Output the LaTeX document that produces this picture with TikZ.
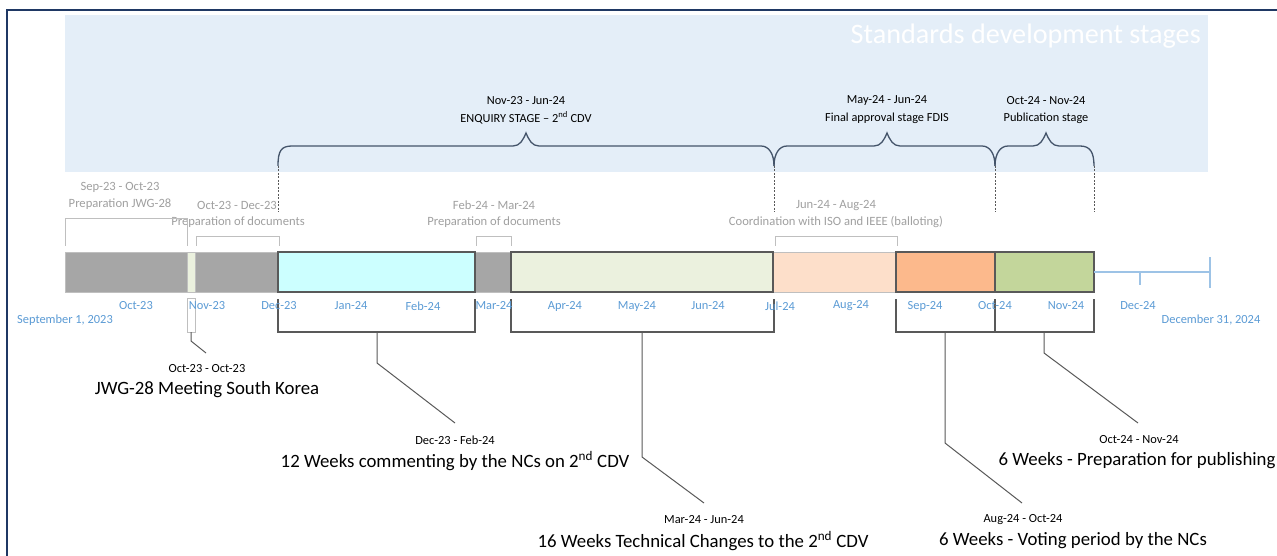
\documentclass[tikz,border=0pt]{standalone}
\usepackage{fontspec}
\setmainfont{Carlito}
\definecolor{frameblue}{HTML}{1F3864}
\definecolor{regionblue}{HTML}{E4EEF8}
\definecolor{segGray}{HTML}{A6A6A6}
\definecolor{segCyan}{HTML}{CCFFFF}
\definecolor{segOlive}{HTML}{EBF1DE}
\definecolor{segPeach}{HTML}{FDDFCA}
\definecolor{segOrange}{HTML}{FCB98C}
\definecolor{segGreen}{HTML}{C3D69B}
\definecolor{monthBlue}{HTML}{5B9BD5}
\definecolor{axisBlue}{HTML}{9DC3E6}
\definecolor{labelGray}{HTML}{A0A0A0}
\definecolor{braceCol}{HTML}{44546A}
\definecolor{darkEdge}{HTML}{595959}
\definecolor{lightEdge}{HTML}{BFBFBF}
\begin{document}
\begin{tikzpicture}[x=1pt,y=-1pt,
  month/.style={text=monthBlue,font=\fontsize{12.4}{14}\selectfont,inner sep=0pt,anchor=center},
  graylbl/.style={text=labelGray,font=\fontsize{12.6}{14}\selectfont,inner sep=0pt,anchor=center},
  stagelbl/.style={text=black,font=\fontsize{12.3}{14}\selectfont,inner sep=0pt,anchor=center},
  datelbl/.style={text=black,font=\fontsize{12.4}{14}\selectfont,inner sep=0pt,anchor=center},
  biglbl/.style={text=black,font=\fontsize{18.8}{21}\selectfont,inner sep=0pt,anchor=center},
  stagebrace/.style={draw=braceCol,line width=1.3pt},
  grayframe/.style={draw=lightEdge,line width=1pt},
  lowbracket/.style={draw=darkEdge,line width=1.3pt},
  leader/.style={draw=darkEdge,line width=1pt},
  guide/.style={draw=darkEdge,line width=0.9pt,dash pattern=on 2pt off 1.5pt},
  segdark/.style={draw=darkEdge,line width=1.2pt},
]
\useasboundingbox (0,0) rectangle (1277,556);
\fill[white] (0,0) rectangle (1277,556);
% frame
\draw[frameblue,line width=1.6pt] (7,560) -- (7,10) -- (1280,10);
% region
\fill[regionblue] (65,15) rectangle (1208,172);
\node[text=white,font=\fontsize{28.2}{31}\selectfont,anchor=east,inner sep=0pt] (title) at (1201,36) {Standards development stages};

% stage labels
\node[stagelbl] (enqA) at (526,101) {Nov-23 - Jun-24};
\node[stagelbl] (enqB) at (526,118) {ENQUIRY STAGE – 2\textsuperscript{nd} CDV};
\node[stagelbl] (fdisA) at (887,101) {May-24 - Jun-24};
\node[stagelbl] (fdisB) at (887,118) {Final approval stage FDIS};
\node[stagelbl] (pubA) at (1046,101) {Oct-24 - Nov-24};
\node[stagelbl] (pubB) at (1046,118) {Publication stage};

% braces
\draw[stagebrace] (278,166) .. controls (278,151) and (281,146) .. (292,146)
  -- (513,146) .. controls (520,146) and (523,140) .. (526,133)
  .. controls (529,140) and (532,146) .. (539,146)
  -- (761,146) .. controls (769,146) and (774,154) .. (774,166);
\draw[stagebrace] (774,166) .. controls (774,154) and (779,146) .. (787,146)
  -- (874,146) .. controls (881,146) and (884,140) .. (887,133)
  .. controls (890,140) and (893,146) .. (900,146)
  -- (982,146) .. controls (990,146) and (995,154) .. (995,166);
\draw[stagebrace] (995,166) .. controls (995,154) and (1000,146) .. (1008,146)
  -- (1033,146) .. controls (1040,146) and (1043,140) .. (1046,133)
  .. controls (1049,140) and (1052,146) .. (1059,146)
  -- (1080,146) .. controls (1090,146) and (1094,152) .. (1094,166);

% dashed guides
\foreach \gx in {278,774,995,1094} {\draw[guide] (\gx,166) -- (\gx,212);}

% gray labels above bar
\node[graylbl] (prepJA) at (120,187) {Sep-23 - Oct-23};
\node[graylbl] (prepJB) at (120,204) {Preparation JWG-28};
\node[graylbl] (prepDA) at (237,205) {Oct-23 - Dec-23};
\node[graylbl] (prepDB) at (238,222) {Preparation of documents};
\node[graylbl] (prepEA) at (494,205) {Feb-24 - Mar-24};
\node[graylbl] (prepEB) at (494,222) {Preparation of documents};
\node[graylbl] (coordA) at (836,205) {Jun-24 - Aug-24};
\node[graylbl] (coordB) at (836,222) {Coordination with ISO and IEEE (balloting)};

\draw[grayframe] (65,246) -- (65,219) -- (187,219) -- (187,246);
\draw[grayframe] (196,246) -- (196,237) -- (279,237) -- (279,246);
\draw[grayframe] (476,246) -- (476,237) -- (511,237) -- (511,246);
\draw[grayframe] (775,246) -- (775,237) -- (897,237) -- (897,246);

% bar segments
\filldraw[fill=segGray,draw=lightEdge,line width=0.8pt] (65,252) rectangle (187,292);
\filldraw[fill=segOlive,draw=lightEdge,line width=0.6pt] (187,252) rectangle (195,292);
\filldraw[fill=segGray,draw=lightEdge,line width=0.8pt] (195,252) rectangle (278,292);
\filldraw[fill=segGray,draw=lightEdge,line width=0.8pt] (475,252) rectangle (511,292);
\filldraw[fill=segPeach,draw=lightEdge,line width=1pt] (773,252) rectangle (896,292);
\filldraw[fill=segCyan,segdark] (278,252) rectangle (475,292);
\filldraw[fill=segOlive,segdark] (511,252) rectangle (773,292);
\filldraw[fill=segOrange,segdark] (896,252) rectangle (995,292);
\filldraw[fill=segGreen,segdark] (995,252) rectangle (1094,292);

% axis tail
\draw[axisBlue,line width=1.2pt] (1094,272) -- (1210,272);
\draw[axisBlue,line width=1.2pt] (1140,272) -- (1140,285);
\draw[axisBlue,line width=1.2pt] (1210,257) -- (1210,288);

% meeting marker
\draw[grayframe] (187,298) rectangle (195,332);

% lower brackets
\draw[lowbracket] (278,299) -- (278,332) -- (475,332) -- (475,299);
\draw[lowbracket] (511,299) -- (511,332) -- (774,332) -- (774,299);
\draw[lowbracket] (896,299) -- (896,332) -- (1094,332) -- (1094,299);
\draw[lowbracket] (995,299) -- (995,332);

% month labels
\node[month] (m1) at (136,306) {Oct-23};
\node[month] (m2) at (207,306) {Nov-23};
\node[month] (m3) at (279,306) {Dec-23};
\node[month] (m4) at (351,306) {Jan-24};
\node[month] (m5) at (423,306) {Feb-24};
\node[month] (m6) at (494,306) {Mar-24};
\node[month] (m7) at (565,306) {Apr-24};
\node[month] (m8) at (637,306) {May-24};
\node[month] (m9) at (708,306) {Jun-24};
\node[month] (m10) at (780,306) {Jul-24};
\node[month] (m11) at (851,306) {Aug-24};
\node[month] (m12) at (925,306) {Sep-24};
\node[month] (m13) at (995,306) {Oct-24};
\node[month] (m14) at (1066,306) {Nov-24};
\node[month] (m15) at (1138,306) {Dec-24};
\node[month] (start) at (65,320) {September 1, 2023};
\node[month] (end) at (1211,320) {December 31, 2024};

% bottom labels
\node[datelbl] (meetA) at (207,369) {Oct-23 - Oct-23};
\node[biglbl] (meetB) at (207,390) {JWG-28 Meeting South Korea};
\node[datelbl] (comA) at (455,440) {Dec-23 - Feb-24};
\node[biglbl] (comB) at (455,461) {12 Weeks commenting by the NCs on 2\textsuperscript{nd} CDV};
\node[datelbl] (techA) at (704,520) {Mar-24 - Jun-24};
\node[biglbl] (techB) at (703,541) {16 Weeks Technical Changes to the 2\textsuperscript{nd} CDV};
\node[datelbl] (voteA) at (1023,520) {Aug-24 - Oct-24};
\node[biglbl] (voteB) at (1073,541) {6 Weeks - Voting period by the NCs};
\node[datelbl] (pubdA) at (1139,440) {Oct-24 - Nov-24};
\node[biglbl] (pubdB) at (1137,461) {6 Weeks - Preparation for publishing};

% leader lines
\coordinate (lm0) at (191,332); \coordinate (lm1) at (191,341); \coordinate (lm2) at (206,353);
\coordinate (lc0) at (377,332); \coordinate (lc1) at (377,363); \coordinate (lc2) at (455,423);
\coordinate (lt0) at (642,332); \coordinate (lt1) at (642,457); \coordinate (lt2) at (704,503);
\coordinate (lv0) at (945,332); \coordinate (lv1) at (945,443); \coordinate (lv2) at (1022,503);
\coordinate (lp0) at (1044,332); \coordinate (lp1) at (1044,353); \coordinate (lp2) at (1138,423);
\draw[leader] (lm0) -- (lm1) -- (lm2);
\draw[leader] (lc0) -- (lc1) -- (lc2);
\draw[leader] (lt0) -- (lt1) -- (lt2);
\draw[leader] (lv0) -- (lv1) -- (lv2);
\draw[leader] (lp0) -- (lp1) -- (lp2);
\end{tikzpicture}
\end{document}
